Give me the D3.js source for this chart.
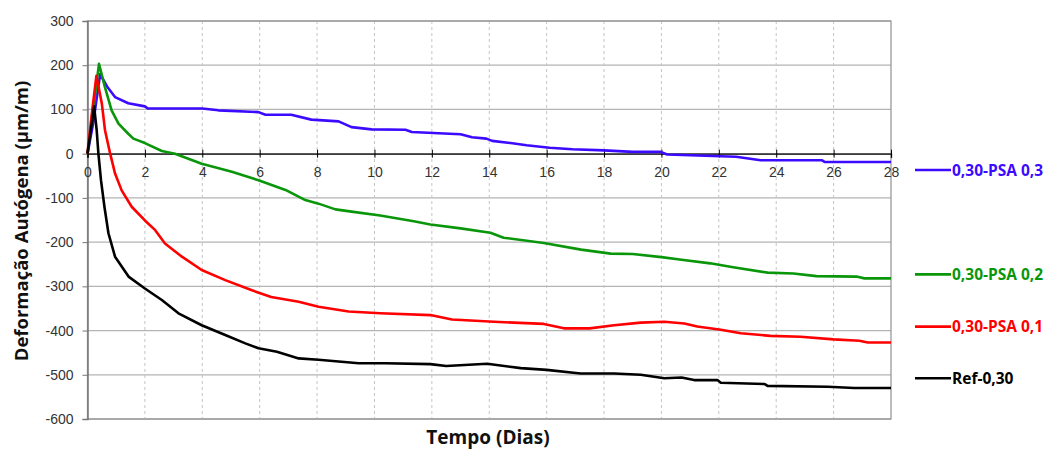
<!DOCTYPE html>
<html>
<head>
<meta charset="utf-8">
<script src="https://cdn.jsdelivr.net/npm/d3@7"></script>
<style>
  body { margin: 0; background: #fff; }
  svg { display: block; font-family: "Open Sans", sans-serif; }
</style>
</head>
<body>
<svg id="chart" width="1054" height="450"></svg>
<script>
const width = 1054, height = 450;
const margin = { left: 87.5, right: 163, top: 21, bottom: 31 };

// tick values
const xTicks = d3.range(0, 29, 2);
const yTicks = d3.range(-600, 301, 100);

// series: [day, µm/m]
const psa03 = [[0,0],[0.2,70],[0.44,180],[0.7,150],[0.96,128],[1.42,114],[2.0,107],[2.1,102],[4.0,102],
  [4.56,98],[5.96,94],[6.2,88],[7.1,88],[7.8,77],[8.75,73],[9.2,60],[9.9,55],[11.08,54],[11.3,49],
  [13.0,44],[13.4,37],[13.9,34],[14.1,29],[14.74,24],[15.3,19],[16.1,13.5],[16.9,10],[18.0,7.5],
  [19.0,4],[19.97,4],[20.2,-2],[22.07,-6],[22.6,-7],[23.46,-15],[25.6,-15],[25.7,-19],[28,-19]];
const psa02 = [[0,0],[0.2,100],[0.4,203],[0.61,150],[0.84,98],[1.08,68],[1.42,45],[1.6,34],[2.0,24],
  [2.59,6],[3.05,0],[3.98,-23],[5.03,-41],[5.96,-60],[6.9,-82],[7.59,-105],[8.05,-113],[8.64,-126],
  [9.2,-131],[10.2,-140],[11.37,-153],[11.95,-160],[13.0,-169],[14.04,-179],[14.5,-190],[15.9,-202],
  [17.2,-217],[18.23,-226],[19.0,-227],[20.0,-234],[20.7,-240],[21.7,-248],[22.5,-257],[23.7,-269],
  [24.6,-271],[25.4,-277],[26.8,-278],[27.07,-282],[28,-282]];
const psa01 = [[0,0],[0.15,90],[0.31,176],[0.5,113],[0.61,53],[0.79,0],[0.96,-45],[1.19,-83],[1.54,-120],
  [2.0,-151],[2.36,-173],[2.7,-203],[3.29,-233],[3.98,-263],[4.8,-286],[5.73,-309],[6.4,-324],
  [7.36,-335],[8.05,-346],[9.1,-357],[10.2,-361],[11.95,-365],[12.7,-375],[14.16,-380],[15.9,-385],
  [16.6,-395],[17.5,-395],[18.35,-388],[19.28,-382],[20.1,-380],[20.8,-384],[21.25,-391],[22.07,-398],
  [22.77,-406],[23.8,-412],[24.85,-414],[26.0,-420],[26.9,-423],[27.19,-427],[28,-427]];
const ref030 = [[0,0],[0.12,55],[0.23,107],[0.32,53],[0.38,0],[0.47,-60],[0.59,-120],[0.73,-180],
  [0.96,-233],[1.43,-278],[2.0,-305],[2.59,-331],[3.17,-361],[3.98,-388],[4.8,-410],[5.5,-429],
  [5.96,-440],[6.6,-448],[7.36,-463],[8.05,-466],[8.75,-470],[9.45,-474],[10.38,-474],[11.95,-476],
  [12.5,-480],[13.93,-475],[15.1,-485],[16.0,-489],[17.18,-497],[18.35,-497],[19.28,-500],[20.1,-508],
  [20.7,-506],[21.14,-512],[21.95,-512],[22.07,-518],[23.6,-521],[23.7,-525],[25.8,-527],[26.72,-530],[28,-530]];

const seriesNames = ["0,30-PSA 0,3", "0,30-PSA 0,2", "0,30-PSA 0,1", "Ref-0,30"];
const seriesColors = ["#3c0aff", "#0a960a", "#ff0000", "#000000"];
const seriesData = [psa03, psa02, psa01, ref030];
// legend label heights (in chart units), next to the end of each curve
const legendAt = [-37, -273, -391, -508];

const svg = d3.select("#chart");

const x = d3.scaleLinear().domain([0, 28]).range([margin.left, width - margin.right]);
const y = d3.scaleLinear().domain([-600, 300]).range([height - margin.bottom, margin.top]);

// horizontal grid
svg.append("g")
    .selectAll("line")
    .data(yTicks)
    .enter()
    .append("line")
    .attr("x1", x(0)).attr("x2", x(28))
    .attr("y1", d => y(d)).attr("y2", d => y(d))
    .attr("stroke", "#b4b4b4")
    .attr("stroke-width", 1.3);

// vertical dotted grid
svg.append("g")
    .selectAll("line")
    .data(xTicks.filter(d => d > 0 && d < 28))
    .enter()
    .append("line")
    .attr("x1", d => x(d)).attr("x2", d => x(d))
    .attr("y1", y(300)).attr("y2", y(-600))
    .attr("stroke", "#c4c4c4")
    .attr("stroke-dasharray", "3,3");

// plot border
svg.append("rect")
    .attr("x", x(0)).attr("y", y(300))
    .attr("width", x(28) - x(0)).attr("height", y(-600) - y(300))
    .attr("fill", "none")
    .attr("stroke", "#9a9a9a")
    .attr("stroke-width", 1.3);

// y axis
const yAxis = svg.append("g")
    .attr("transform", "translate(" + x(0) + ",0)")
    .call(d3.axisLeft(y).tickValues(yTicks).tickSize(5).tickPadding(9).tickFormat(d3.format("d")));
yAxis.select(".domain").attr("stroke", "#777").attr("stroke-width", 1.5);
yAxis.selectAll(".tick line").attr("stroke", "#777");
yAxis.selectAll("text")
    .attr("font-size", 14)
    .attr("fill", "#333")
    .text(d => d < 0 ? "-" + Math.abs(d) : d);

// x axis along zero
const xAxis = svg.append("g")
    .attr("transform", "translate(0," + y(0) + ")")
    .call(d3.axisBottom(x).tickValues(xTicks).tickSize(4).tickPadding(9).tickFormat(d3.format("d")));
xAxis.select(".domain").attr("stroke", "#000").attr("stroke-width", 1.3);
xAxis.selectAll(".tick line").attr("stroke", "#000").attr("y1", -4);
xAxis.selectAll("text").attr("font-size", 14).attr("fill", "#333");

// curves
const line = d3.line()
    .x(d => x(d[0]))
    .y(d => y(d[1]));

svg.append("g")
    .selectAll("path")
    .data(seriesData)
    .enter()
    .append("path")
    .attr("d", line)
    .attr("fill", "none")
    .attr("stroke", (d, i) => seriesColors[i])
    .attr("stroke-width", 2.6)
    .attr("stroke-linejoin", "round");

// legend
const legend = svg.append("g")
    .selectAll("g")
    .data(seriesNames)
    .enter()
    .append("g")
    .attr("transform", (d, i) => "translate(915," + y(legendAt[i]) + ")");

legend.append("line")
    .attr("x1", 0).attr("x2", 36)
    .attr("stroke", (d, i) => seriesColors[i])
    .attr("stroke-width", 2.6);

legend.append("text")
    .attr("x", 37)
    .attr("dy", "0.36em")
    .attr("font-size", 15.5)
    .attr("font-weight", "bold")
    .attr("fill", (d, i) => seriesColors[i])
    .text(d => d);

// axis titles
svg.append("text")
    .attr("x", 488)
    .attr("y", 444)
    .attr("text-anchor", "middle")
    .attr("font-size", 19)
    .attr("font-weight", "bold")
    .attr("fill", "#111")
    .text("Tempo (Dias)");

svg.append("text")
    .attr("transform", "translate(28,221) rotate(-90)")
    .attr("text-anchor", "middle")
    .attr("font-size", 18.5)
    .attr("font-weight", "bold")
    .attr("fill", "#111")
    .text("Deformação Autógena (µm/m)");
</script>
</body>
</html>
